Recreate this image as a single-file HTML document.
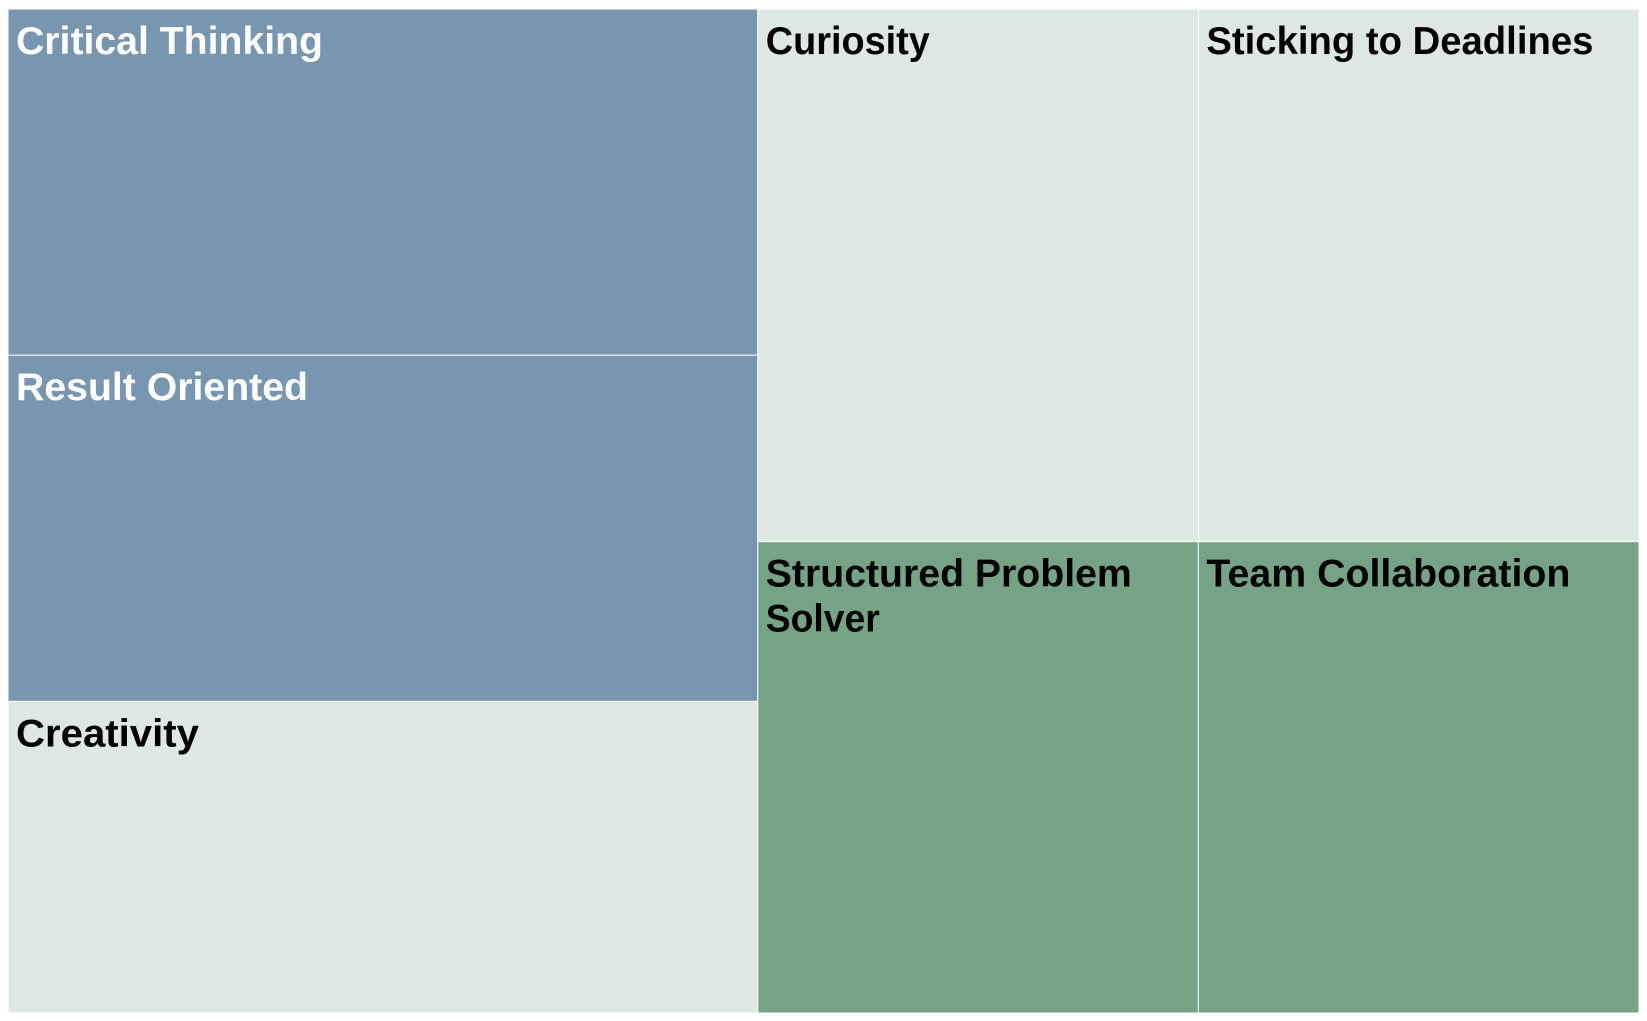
<!DOCTYPE html>
<html><head><meta charset="utf-8"><style>
html,body{margin:0;padding:0;background:#fff;}
svg{display:block;}
text{font-family:"Liberation Sans","DejaVu Sans",sans-serif;font-weight:bold;font-size:39px;}
</style></head><body>
<svg id="chart" width="1647" height="1021" viewBox="0 0 1647 1021"></svg>
<script>
const leftNames = ["Critical Thinking","Result Oriented","Creativity"];
const leftValues = [12,12,10.8];
const rightTopNames = ["Curiosity","Sticking to Deadlines"];
const rightTopValues = [10.85,10.85];
const rightBottomNames = ["Structured Problem|Solver","Team Collaboration"];
const rightBottomValues = [9.6,9.6];
const leftColors = ["#7896b0","#7896b0","#dde8e2"];
const rightTopColors = ["#dde8e2","#dde8e2"];
const rightBottomColors = ["#76a385","#76a385"];
const labelWidths = {"Critical Thinking":307,"Result Oriented":292,"Creativity":183,"Curiosity":164,"Sticking to Deadlines":387,"Structured Problem":366,"Solver":114,"Team Collaboration":364};

const svg=document.getElementById('chart');
const NS="http://www.w3.org/2000/svg";
const X0=8,Y0=9,W=1631,H=1004;
const sum=a=>a.reduce((s,v)=>s+v,0);
const total=sum(leftValues)+sum(rightTopValues)+sum(rightBottomValues);
function tile(x,y,w,h,name,color){
  const g=document.createElementNS(NS,'g');
  
  
  const r=document.createElementNS(NS,'rect');
  r.setAttribute('x',x);r.setAttribute('y',y);r.setAttribute('width',w);r.setAttribute('height',h);
  r.setAttribute('fill',color);r.setAttribute('stroke','#ffffff');r.setAttribute('stroke-width','1');
  
  
  g.appendChild(r);
  const fill=color==="#7896b0"?"#ffffff":"#000000";
  name.split('|').forEach((ln,i)=>{
    const t=document.createElementNS(NS,'text');
    t.setAttribute('x',x+8);t.setAttribute('y',y+45+i*45);t.setAttribute('fill',fill);
    if(labelWidths[ln]){t.setAttribute('textLength',labelWidths[ln]);t.setAttribute('lengthAdjust','spacingAndGlyphs');}
    t.textContent=ln;
    
    
    g.appendChild(t);
  });
  svg.appendChild(g);
}
const lw=W*sum(leftValues)/total;
let y=Y0;
leftValues.forEach((v,i)=>{const h=H*v/sum(leftValues);tile(X0,y,lw,h,leftNames[i],leftColors[i]);y+=h;});
const rw=W-lw;
const rightTotal=sum(rightTopValues)+sum(rightBottomValues);
const th=H*sum(rightTopValues)/rightTotal;
let x=X0+lw;
rightTopValues.forEach((v,i)=>{const w=rw*v/sum(rightTopValues);tile(x,Y0,w,th,rightTopNames[i],rightTopColors[i]);x+=w;});
x=X0+lw;
rightBottomValues.forEach((v,i)=>{const w=rw*v/sum(rightBottomValues);tile(x,Y0+th,w,H-th,rightBottomNames[i],rightBottomColors[i]);x+=w;});
</script>
</body></html>
